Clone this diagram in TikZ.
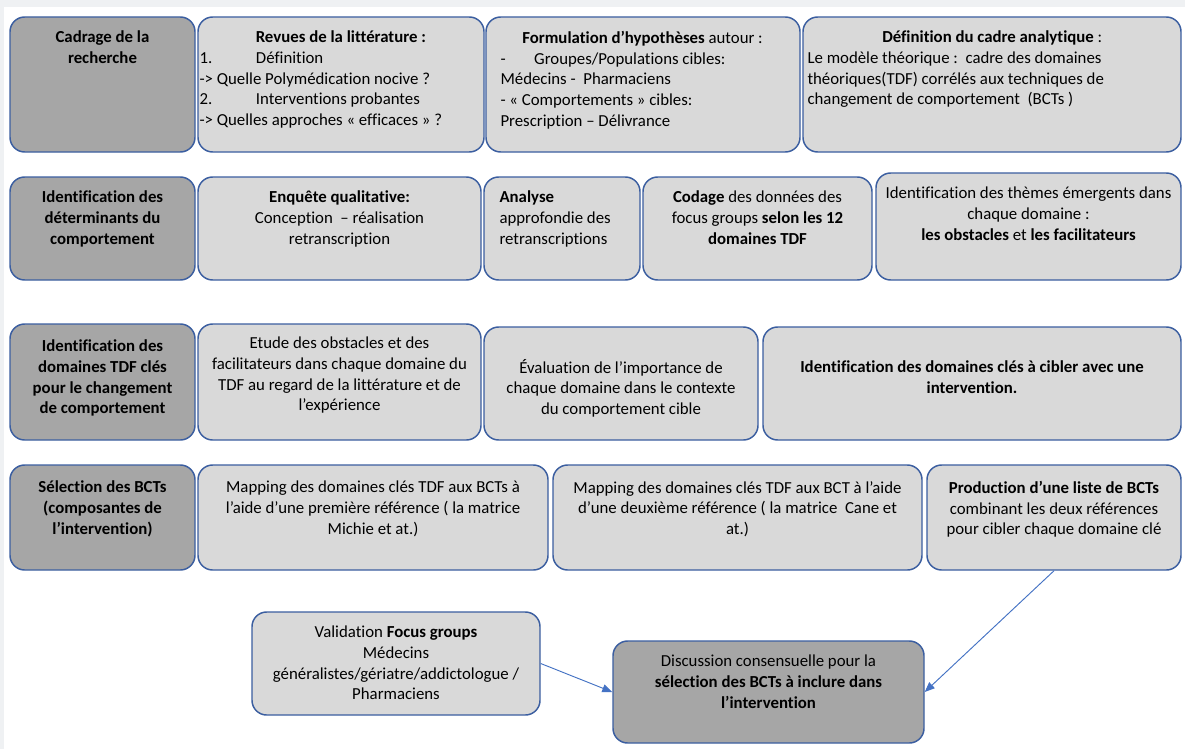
\documentclass[tikz,border=0pt]{standalone}
\usepackage{fontspec}
\setmainfont{Carlito}[Ligatures=NoCommon]
\usetikzlibrary{positioning, arrows.meta, fit}
\definecolor{boxline}{RGB}{59,94,160}
\definecolor{lightfill}{RGB}{217,217,217}
\definecolor{darkfill}{RGB}{166,166,166}
\definecolor{arrowblue}{RGB}{68,114,196}
\definecolor{bggray}{RGB}{239,241,243}
\tikzset{
  block/.style={
    draw=boxline,
    line width=1.1pt,
    rounded corners=11pt,
    fill=lightfill,
    inner sep=0pt
  },
  stage/.style={block, fill=darkfill},
  txt/.style={
    inner sep=0pt,
    align=center,
    font=\fontsize{12.6}{15.5}\selectfont
  },
  btxt/.style={txt, font=\fontsize{12.6}{15.5}\selectfont\bfseries},
  link/.style={
    draw=arrowblue,
    line width=0.7pt,
    -{Triangle[length=7.5pt, width=6pt]}
  }
}

\begin{document}
\begin{tikzpicture}[x=0.75pt, y=-0.75pt]
        \fill[bggray] (0,0) rectangle (1185,749);
        \fill[white] (4,7) rectangle (1185,749);
        \useasboundingbox (0,0) rectangle (1185,749);

        % ligne 1
        \node[stage, fit={(10,17) (195,152)}] (cadrage) {};
        \node[block, fit={(198,17) (484,152)}] (revues) {};
        \node[block, fit={(486,17) (800,152)}] (hypo) {};
        \node[block, fit={(803,17) (1181,152)}] (cadre) {};
        \node[btxt, below=11pt of cadrage.north] (tcadrage) {Cadrage de la\\recherche};
        \node[txt, align=flush left, text width=212pt, below right=11pt and 1.5pt of revues.north west] (trevues)
          {\makebox[\hsize]{\textbf{Revues de la littérature :}}\\1.\hspace{2.6em}Définition\\-> Quelle Polymédication nocive ?\\2.\hspace{2.6em}Interventions probantes\\-> Quelles approches « efficaces » ?};
        \node[txt, align=flush left, text width=213pt, below right=11pt and 11.25pt of hypo.north west] (thypo)
          {\makebox[\hsize]{\textbf{Formulation d’hypothèses} autour :}\\-\hspace{1.7em}Groupes/Populations cibles:\\Médecins -\ \ Pharmaciens\\- « Comportements » cibles:\\Prescription – Délivrance};
        \node[txt, align=flush left, text width=277pt, below right=11pt and 3.75pt of cadre.north west] (tcadre)
          {\makebox[\hsize]{\textbf{Définition du cadre analytique} :}\\Le modèle théorique :\ \ cadre des domaines\\théoriques(TDF) corrélés aux techniques de\\changement de comportement\ \ (BCTs )};

        % ligne 2
        \node[stage, fit={(10,177) (195,280)}] (determ) {};
        \node[block, fit={(198,177) (481,280)}] (enquete) {};
        \node[block, fit={(484,177) (640,280)}] (analyse) {};
        \node[block, fit={(643,177) (872,280)}] (codage) {};
        \node[block, fit={(876,173) (1181,280)}] (themes) {};
        \node[btxt, below=11pt of determ.north] (tdeterm) {Identification des\\déterminants du\\comportement};
        \node[txt, below=11pt of enquete.north] (tenquete) {\textbf{Enquête qualitative:}\\Conception\ \ – réalisation\\retranscription};
        \node[txt, align=flush left, below right=11pt and 12pt of analyse.north west] (tanalyse) {\textbf{Analyse}\\approfondie des\\retranscriptions};
        \node[txt, below=11pt of codage.north] (tcodage) {\textbf{Codage} des données des\\focus groups \textbf{selon les 12}\\\textbf{domaines TDF}};
        \node[txt, below=11pt of themes.north] (tthemes) {Identification des thèmes émergents dans\\chaque domaine :\\\textbf{les obstacles} et \textbf{les facilitateurs}};

        % ligne 3
        \node[stage, fit={(10,324) (195,440)}] (cles) {};
        \node[block, fit={(198,324) (481,440)}] (etude) {};
        \node[block, fit={(484,327) (758,440)}] (evaluation) {};
        \node[block, fit={(763,327) (1181,440)}] (ciblage) {};
        \node[btxt, below=12.5pt of cles.north] (tcles) {Identification des\\domaines TDF clés\\pour le changement\\de comportement};
        \node[txt, below=10.25pt of etude.north] (tetude) {Etude des obstacles et des\\facilitateurs dans chaque domaine du\\TDF au regard de la littérature et de\\l’expérience};
        \node[txt, below=24.5pt of evaluation.north] (tevaluation) {Évaluation de l'importance de\\chaque domaine dans le contexte\\du comportement cible};
        \node[btxt, below=26pt of ciblage.north] (tciblage) {Identification des domaines clés à cibler avec une\\intervention.};

        % ligne 4
        \node[stage, fit={(10,465) (195,570)}] (selection) {};
        \node[block, fit={(198,465) (548,570)}] (michie) {};
        \node[block, fit={(553,465) (922,570)}] (cane) {};
        \node[block, fit={(927,465) (1181,570)}] (liste) {};
        \node[btxt, below=12.5pt of selection.north] (tselection) {Sélection des BCTs\\(composantes de\\l'intervention)};
        \node[txt, below=12.5pt of michie.north] (tmichie) {Mapping des domaines clés TDF aux BCTs à\\l'aide d’une première référence ( la matrice\\Michie et at.)};
        \node[txt, below=12.5pt of cane.north] (tcane) {Mapping des domaines clés TDF aux BCT à l'aide\\d’une deuxième référence ( la matrice\ \ Cane et\\at.)};
        \node[txt, below=12.5pt of liste.north] (tliste) {\textbf{Production d’une liste de BCTs}\\combinant les deux références\\pour cibler chaque domaine clé};

        % validation et consensus
        \node[block, fit={(252,612) (540,715)}] (validation) {};
        \node[stage, fit={(613,641) (924,743)}] (discussion) {};
        \node[txt, below=11pt of validation.north] (tvalidation) {Validation \textbf{Focus groups}\\Médecins\\généralistes/gériatre/addictologue /\\Pharmaciens};
        \node[txt, below=11pt of discussion.north] (tdiscussion) {Discussion consensuelle pour la\\\textbf{sélection des BCTs à inclure dans}\\\textbf{l’intervention}};

        \draw[link] (validation.east) -- (discussion.west);
        \draw[link] (liste.south) -- (discussion.east);
      \end{tikzpicture}
\end{document}
